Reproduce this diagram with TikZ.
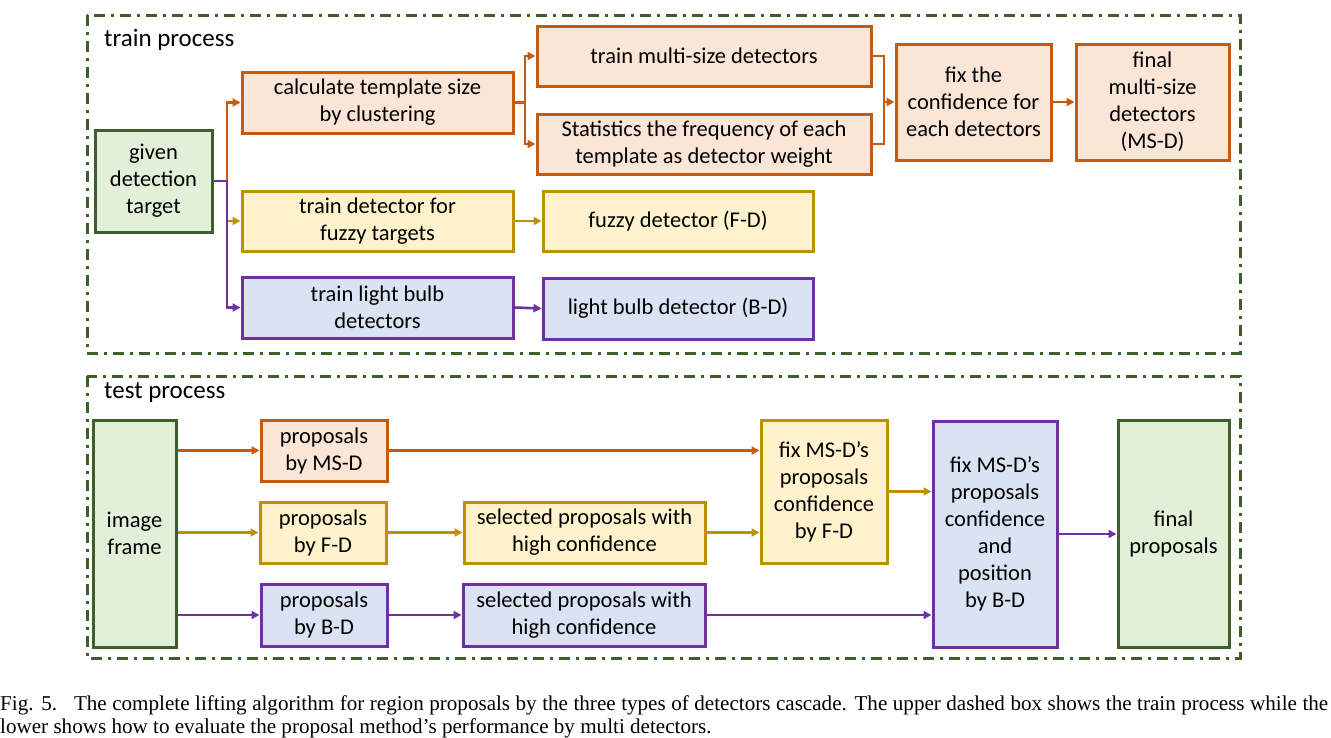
\documentclass[tikz,border=0pt]{standalone}
\usepackage{fontspec}
\setmainfont{Carlito}
\newfontfamily\capfont{Liberation Serif}
\usetikzlibrary{arrows.meta}
\definecolor{ordr}{HTML}{C55A11}
\definecolor{ofil}{HTML}{FBE5D6}
\definecolor{ydr}{HTML}{BF9000}
\definecolor{yfil}{HTML}{FFF2CC}
\definecolor{pdr}{HTML}{7030A0}
\definecolor{pfil}{HTML}{DAE3F3}
\definecolor{gdr}{HTML}{3F5F2A}
\definecolor{gfil}{HTML}{E2F0D9}
\tikzset{
  box/.style={draw, line width=3pt, align=center, inner sep=0pt,
    font=\fontsize{22.5}{27}\selectfont},
  obox/.style={box, draw=ordr, fill=ofil},
  ybox/.style={box, draw=ydr, fill=yfil},
  pbox/.style={box, draw=pdr, fill=pfil},
  gbox/.style={box, draw=gdr, fill=gfil},
  conn/.style={line width=2.6pt},
  tipend/.style={-{Triangle[length=8pt,width=8pt]}},
  oarr/.style={conn, tipend, draw=ordr, color=ordr},
  yarr/.style={conn, tipend, draw=ydr, color=ydr},
  parr/.style={conn, tipend, draw=pdr, color=pdr},
  oline/.style={conn, draw=ordr},
  frame/.style={draw=gdr, line width=3pt, dash pattern=on 11pt off 6pt on 3pt off 6pt},
  lbl/.style={anchor=west, inner sep=0pt, font=\fontsize{25}{28}\selectfont},
  capstyle/.style={anchor=base west, inner sep=0pt, font=\capfont\fontsize{21.1}{24}\selectfont}
}
\begin{document}
\begin{tikzpicture}[x=1pt,y=-1pt]
\useasboundingbox (0,0) rectangle (1331,737);
% frames
\draw[frame] (87,15) rectangle (1240,353);
\draw[frame] (87,376) rectangle (1240,658);
\node[lbl] (trainlbl) at (104,40) {train process};
\node[lbl] (testlbl) at (104,393) {test process};
% train boxes
\node[gbox, minimum width=117pt, minimum height=102pt] (given) at (153.5,181) {given\\detection\\target};
\node[obox, minimum width=271pt, minimum height=61pt] (calc) at (377.5,102.5) {calculate template size\\by clustering};
\node[obox, minimum width=334pt, minimum height=60pt] (multi) at (704,56) {train multi-size detectors};
\node[obox, minimum width=334pt, minimum height=60pt] (stat) at (704,144) {Statistics the frequency of each\\template as detector weight};
\node[obox, minimum width=155pt, minimum height=116pt] (fixc) at (973.5,102) {fix the\\confidence for\\each detectors};
\node[obox, minimum width=153pt, minimum height=116pt] (finms) at (1152.5,102) {final\\multi-size\\detectors\\(MS-D)};
\node[ybox, minimum width=271pt, minimum height=60pt] (ftrain) at (377.5,221) {train detector for\\fuzzy targets};
\node[ybox, minimum width=270pt, minimum height=60pt] (fuzzy) at (678,221) {fuzzy detector (F-D)};
\node[pbox, minimum width=271pt, minimum height=61pt] (btrain) at (377.5,307.5) {train light bulb\\detectors};
\node[pbox, minimum width=270pt, minimum height=61pt] (bulb) at (678,308.5) {light bulb detector (B-D)};
% train connectors
\coordinate (s1) at (227,181);
\coordinate (s2) at (525,102.5);
\coordinate (s3) at (884,102);
\draw[oarr] (given.east) -- (s1) |- (calc.west);
\draw[yarr] (s1) |- (ftrain.west);
\draw[parr] (given.east) -- (s1) |- (btrain.west);
\draw[oarr] (calc.east) -- (s2) |- (multi.west);
\draw[oarr] (s2) |- (stat.west);
\draw[oline] (multi.east) -| (s3);
\draw[oline] (stat.east) -| (s3);
\draw[oarr] (s3) -- (fixc.west);
\draw[oarr] (fixc.east) -- (finms.west);
\draw[yarr] (ftrain.east) -- (fuzzy.west);
\draw[parr] (btrain.east) -- (bulb.west);
% test boxes
\node[gbox, minimum width=83pt, minimum height=227pt] (img) at (134.5,533.5) {image\\frame};
\node[obox, minimum width=126pt, minimum height=61pt] (pms) at (324,450.5) {proposals\\by MS-D};
\node[ybox, minimum width=126pt, minimum height=61pt] (pf) at (323,532.5) {proposals\\by F-D};
\node[pbox, minimum width=126pt, minimum height=62pt] (pb) at (324,615) {proposals\\by B-D};
\node[ybox, minimum width=241pt, minimum height=61pt] (self) at (584.5,532.5) {selected proposals with\\high confidence};
\node[pbox, minimum width=242pt, minimum height=62pt] (selb) at (584,615) {selected proposals with\\high confidence};
\node[ybox, minimum width=126pt, minimum height=143pt] (fixf) at (824,491.5) {fix MS-D’s\\proposals\\confidence\\by F-D};
\node[pbox, minimum width=124pt, minimum height=226pt] (fixb) at (995,534) {fix MS-D’s\\proposals\\confidence\\and\\position\\by B-D};
\node[gbox, minimum width=111pt, minimum height=227pt] (finp) at (1173.5,533.5) {final\\proposals};
% test connectors
\draw[oarr] (img.east |- pms.west) -- (pms.west);
\draw[yarr] (img.east |- pf.west) -- (pf.west);
\draw[parr] (img.east |- pb.west) -- (pb.west);
\draw[oarr] (pms.east) -- (pms.east -| fixf.west);
\draw[yarr] (pf.east) -- (self.west);
\draw[yarr] (self.east) -- (self.east -| fixf.west);
\draw[parr] (pb.east) -- (selb.west);
\draw[parr] (selb.east) -- (selb.east -| fixb.west);
\draw[yarr] (fixf.east) -- (fixf.east -| fixb.west);
\draw[parr] (fixb.east) -- (fixb.east -| finp.west);
% caption
\node[capstyle] (cap1) at (0,710) {\makebox[1328pt][s]{Fig. 5.\hspace{0.8em}The complete lifting algorithm for region proposals by the three types of detectors cascade. The upper dashed box shows the train process while the}};
\node[capstyle] (cap2) at (0,733) {lower shows how to evaluate the proposal method’s performance by multi detectors.};
\end{tikzpicture}
\end{document}
